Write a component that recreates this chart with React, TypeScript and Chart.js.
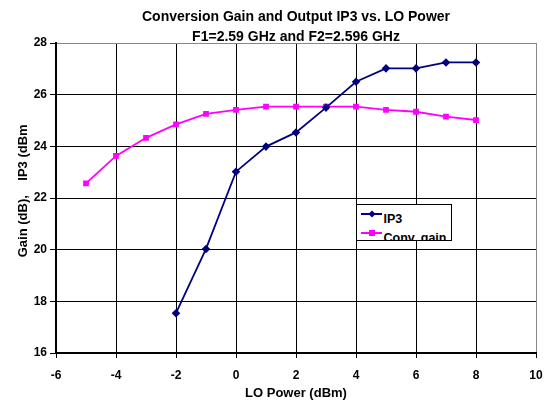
import React, { useEffect, useRef } from "react";
import { Chart, registerables } from "chart.js";

Chart.register(...registerables);

const loPower = [-5, -4, -3, -2, -1, 0, 1, 2, 3, 4, 5, 6, 7, 8];
const convGain = [22.57, 23.63, 24.33, 24.85, 25.26, 25.41, 25.54, 25.54, 25.54, 25.54, 25.41, 25.34, 25.15, 25.02];
const ip3Power = [-2, -1, 0, 1, 2, 3, 4, 5, 6, 7, 8];
const ip3 = [17.54, 20.03, 23.02, 23.99, 24.54, 25.5, 26.5, 27.02, 27.02, 27.25, 27.25];
const titleLines = ["Conversion Gain and Output IP3 vs. LO Power", "F1=2.59 GHz and F2=2.596 GHz"];
const xTitle = "LO Power (dBm)";
const yTitle = "    Gain (dB),    IP3 (dBm";
const seriesNames = ["IP3", "Conv. gain"];

const FONT = "'Liberation Sans', Arial, sans-serif";
const NAVY = "#000080";
const MAGENTA = "#ff00ff";

export default function App() {
  const ref = useRef<HTMLCanvasElement>(null);
  useEffect(() => {
    document.body.style.margin = "0";
    const ctx = ref.current!.getContext("2d")!;
    const chart = new Chart(ctx, {
      type: "line",
      data: {
        datasets: [
          {
            label: seriesNames[0],
            data: ip3Power.map((x, i) => ({ x, y: ip3[i] })),
            borderColor: NAVY,
            backgroundColor: NAVY,
            borderWidth: 1.8,
            pointStyle: "rectRot",
            pointRadius: 3,
            tension: 0,
          },
          {
            label: seriesNames[1],
            data: loPower.map((x, i) => ({ x, y: convGain[i] })),
            borderColor: MAGENTA,
            backgroundColor: MAGENTA,
            borderWidth: 1.8,
            pointStyle: "rect",
            pointRadius: 2.8,
            tension: 0,
          },
        ],
      },
      options: {
        responsive: false,
        animation: false,
        layout: { padding: { left: 0, right: 0, top: 0, bottom: 0 } },
        plugins: {
          legend: { display: false },
          tooltip: { enabled: false },
          title: {
            display: true,
            text: titleLines,
            fullSize: false,
            color: "#000",
            font: { family: FONT, size: 14, weight: "bold", lineHeight: 1.43 },
            padding: { top: 7, bottom: -4 },
          },
        },
        scales: {
          x: {
            type: "linear",
            min: -6,
            max: 10,
            ticks: {
              stepSize: 2,
              color: "#000",
              font: { family: FONT, size: 12, weight: "bold" },
              padding: 10,
            },
            grid: {
              color: (c: any) => (c.tick && c.tick.value === 10 ? "#888" : "#000"),
              lineWidth: 1,
              tickLength: 5,
              tickColor: "#000",
            },
            border: { color: "#000", width: 2 },
            title: {
              display: true,
              text: xTitle,
              color: "#000",
              font: { family: FONT, size: 13, weight: "bold" },
              padding: { top: 2, bottom: 3 },
            },
            afterFit: (s: any) => {
              s.height = 51;
              s.paddingRight = 12;
              s.paddingLeft = 0;
            },
          },
          y: {
            min: 16,
            max: 28,
            ticks: {
              stepSize: 2,
              color: "#000",
              font: { family: FONT, size: 12, weight: "bold" },
              padding: 3,
            },
            grid: {
              color: (c: any) => (c.tick && c.tick.value === 28 ? "#888" : "#000"),
              lineWidth: 1,
              tickLength: 6,
              tickColor: "#000",
            },
            border: { color: "#000", width: 2 },
            title: {
              display: true,
              text: yTitle,
              color: "#000",
              font: { family: FONT, size: 13, weight: "bold" },
              padding: { top: 16, bottom: 0 },
            },
            afterFit: (s: any) => {
              s.width = 56;
            },
          },
        },
      },
    });
    return () => chart.destroy();
  }, []);

  const item = (color: string, marker: "diamond" | "square", label: string) => (
    <div style={{ display: "flex", alignItems: "center", height: 19 }}>
      <div style={{ position: "relative", width: 21, height: 19, marginRight: 2 }}>
        <div style={{ position: "absolute", left: 0, right: 0, top: 5, borderTop: `2px solid ${color}` }} />
        <div
          style={{
            position: "absolute",
            left: 8,
            top: 3,
            width: 6,
            height: 6,
            background: color,
            transform: marker === "diamond" ? "rotate(45deg) scale(0.85)" : "none",
          }}
        />
      </div>
      <span
        style={{
          position: "relative",
          top: 1.5,
          fontFamily: FONT,
          fontWeight: "bold",
          fontSize: 12.5,
          color: "#000",
        }}
      >
        {label}
      </span>
    </div>
  );

  return (
    <div style={{ position: "relative", width: 548, height: 404 }}>
      <canvas ref={ref} width={548} height={404} style={{ display: "block" }} />
      <div
        style={{
          position: "absolute",
          left: 356,
          top: 204,
          width: 96,
          height: 37,
          boxSizing: "border-box",
          border: "1.5px solid #000",
          background: "#fff",
          overflow: "hidden",
          paddingLeft: 3.5,
          paddingTop: 3,
        }}
      >
        {item(NAVY, "diamond", seriesNames[0])}
        {item(MAGENTA, "square", seriesNames[1])}
      </div>
    </div>
  );
}
